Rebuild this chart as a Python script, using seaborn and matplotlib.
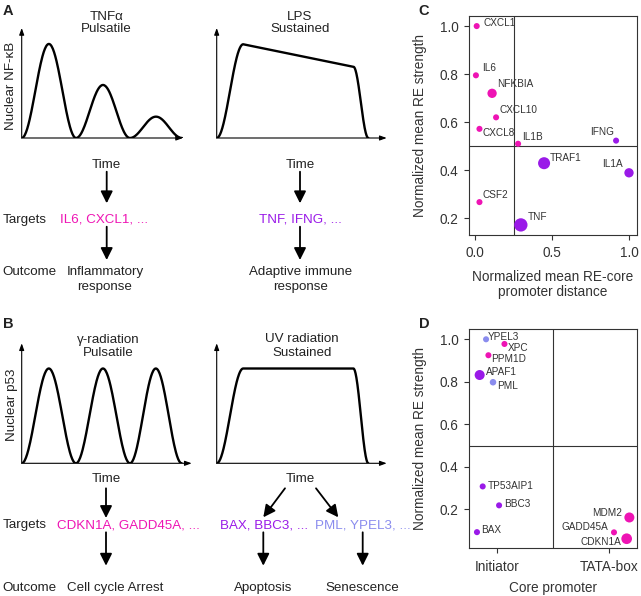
import numpy as np
import pandas as pd
import matplotlib
matplotlib.use("Agg")
import matplotlib.pyplot as plt
import seaborn as sns

# ---------------- data ----------------
# Panels A / B: schematic nuclear-level profiles (time, level normalised to drawn axes)
tnf_pulse_edges = [0.0, 0.337, 0.671, 0.994]
tnf_peak_levels = [0.855, 0.482, 0.194]
lps_knot_time = [0.0, 0.156, 0.804, 0.892]
lps_knot_level = [0.0, 0.852, 0.648, 0.0]
gamma_pulse_edges = [0.0, 0.319, 0.637, 0.941]
gamma_peak_levels = [0.79, 0.79, 0.79]
uv_knot_time = [0.0, 0.156, 0.804, 0.892]
uv_knot_level = [0.0, 0.79, 0.79, 0.0]

# Panel C: NF-kB targets
c_genes = ["CXCL1", "IL6", "NFKBIA", "CXCL10", "CXCL8", "IL1B", "IFNG", "TRAF1", "IL1A", "CSF2", "TNF"]
c_distance = [0.01, 0.005, 0.11, 0.136, 0.028, 0.279, 0.916, 0.448, 1.0, 0.028, 0.297]
c_strength = [1.0, 0.795, 0.72, 0.62, 0.572, 0.51, 0.523, 0.429, 0.389, 0.267, 0.172]
c_group = ["Pulsatile", "Pulsatile", "Pulsatile", "Pulsatile", "Pulsatile", "Pulsatile",
           "Sustained", "Sustained", "Sustained", "Pulsatile", "Sustained"]
c_size = [19, 19, 45, 19, 19, 19, 19, 75, 45, 19, 92]

# Panel D: p53 targets
d_genes = ["YPEL3", "XPC", "PPM1D", "APAF1", "PML", "TP53AIP1", "BBC3", "BAX", "MDM2", "GADD45A", "CDKN1A"]
d_promoter = ["Initiator", "Initiator", "Initiator", "Initiator", "Initiator", "Initiator",
              "Initiator", "Initiator", "TATA-box", "TATA-box", "TATA-box"]
d_jitter = [-0.098, 0.066, -0.077, -0.155, -0.036, -0.128, 0.018, -0.179, 0.179, 0.042, 0.155]
d_strength = [1.0, 0.978, 0.925, 0.832, 0.798, 0.308, 0.219, 0.093, 0.162, 0.092, 0.062]
d_group = ["Senescence", "Arrest", "Arrest", "Apoptosis", "Senescence", "Apoptosis",
           "Apoptosis", "Apoptosis", "Arrest", "Arrest", "Arrest"]
d_size = [19, 19, 19, 52, 22, 19, 19, 19, 52, 19, 59]
promoter_categories = ["Initiator", "TATA-box"]

# ---------------- style ----------------
MAGENTA = "#EE14B4"
PURPLE = "#9A1AE8"
LAVENDER = "#8A8CEE"
INK = "#222222"
c_palette = {"Pulsatile": MAGENTA, "Sustained": PURPLE}
d_palette = {"Arrest": MAGENTA, "Apoptosis": PURPLE, "Senescence": LAVENDER}
SMIN, SMAX = 19, 92

c_label_offsets = {"CXCL1": (4.9, 1.9), "IL6": (4.3, 5.0), "NFKBIA": (3.8, 6.5),
                   "CXCL10": (2.2, 5.3), "CXCL8": (2.4, -3.1), "IL1B": (3.1, 5.0),
                   "IFNG": (-1.2, 6.0), "TRAF1": (4.3, 3.6), "IL1A": (-4.3, 6.2),
                   "CSF2": (2.4, 5.3), "TNF": (4.8, 5.5)}
d_label_offsets = {"YPEL3": (1.4, 1.9), "XPC": (2.2, -2.6), "PPM1D": (1.7, -2.9),
                   "APAF1": (4.6, 2.2), "PML": (2.9, -2.6), "TP53AIP1": (3.4, 0.0),
                   "BBC3": (3.4, 0.7), "BAX": (3.1, 1.9), "MDM2": (-5.0, 2.9),
                   "GADD45A": (-4.1, 3.6), "CDKN1A": (-4.1, -2.6)}

sns.set_theme(style="ticks")
plt.rcParams["font.family"] = ["Liberation Sans", "DejaVu Sans"]

W, H = 641, 596
fig = plt.figure(figsize=(W / 100, H / 100), dpi=100)
fig.patch.set_facecolor("white")


def px_axes(x0, y0, x1, y1):
    return fig.add_axes([x0 / W, 1 - y1 / H, (x1 - x0) / W, (y1 - y0) / H])


overlay = fig.add_axes([0, 0, 1, 1])
overlay.set_xlim(0, W)
overlay.set_ylim(H, 0)
overlay.axis("off")

TXT = 9.6


def text(x, y, s, color=INK, ha="center", size=TXT, weight="normal"):
    overlay.text(x, y, s, ha=ha, va="baseline", fontsize=size, color=color, fontweight=weight)


def flow_arrow(x0, y0, x1, y1):
    overlay.annotate("", xy=(x1, y1), xytext=(x0, y0),
                     arrowprops=dict(arrowstyle="-|>,head_length=0.6,head_width=0.3",
                                     lw=1.3, color="black", mutation_scale=12,
                                     shrinkA=0, shrinkB=0))


def pulses(edges, peaks):
    ts, ys = [], []
    s = np.linspace(0, 1, 90)
    for a, b, p in zip(edges[:-1], edges[1:], peaks):
        ts.append(a + (b - a) * s)
        ys.append(p * (1 - np.cos(2 * np.pi * s)) / 2)
    return np.concatenate(ts), np.concatenate(ys)


def sustained(kt, ky):
    s = np.linspace(0, 1, 90)
    ease = (1 - np.cos(np.pi * s)) / 2
    t = np.concatenate([kt[0] + (kt[1] - kt[0]) * s, kt[2] + (kt[3] - kt[2]) * s])
    y = np.concatenate([ky[0] + (ky[1] - ky[0]) * ease, ky[2] + (ky[3] - ky[2]) * ease])
    return t, y


def schematic(x0, ytop, x1, ybase, t, y):
    ax = px_axes(x0, ytop, x1, ybase)
    ax.set_xlim(0, 1)
    ax.set_ylim(0, 1)
    ax.axis("off")
    for tip in [(1, 0), (0, 1)]:
        ax.annotate("", xy=tip, xytext=(0, 0), xycoords="axes fraction",
                    arrowprops=dict(arrowstyle="-|>,head_length=0.5,head_width=0.18",
                                    lw=0.8, color="black", mutation_scale=8,
                                    shrinkA=0, shrinkB=0), annotation_clip=False)
    sns.lineplot(x=t, y=y, ax=ax, color="black", linewidth=1.7, estimator=None, sort=False)
    ax.set_xlabel("")
    ax.set_ylabel("")
    return ax


# ---------------- Panel A ----------------
t, y = pulses(tnf_pulse_edges, tnf_peak_levels)
schematic(21.7, 28, 183, 138, t, y)
t, y = sustained(lps_knot_time, lps_knot_level)
schematic(216.7, 28, 386.7, 138, t, y)

text(8, 15, "A", ha="center", size=10.5, weight="bold")
text(106.7, 20, "TNF\u03b1")
text(106.7, 32, "Pulsatile")
text(300, 20, "LPS")
text(300, 32, "Sustained")
overlay.text(11.5, 86, "Nuclear NF-\u03baB", rotation=90, ha="center", va="center",
             fontsize=TXT, color=INK)
text(106.7, 167.7, "Time")
text(300, 167.7, "Time")
flow_arrow(106.7, 171.7, 106.7, 203.3)
flow_arrow(300, 171.7, 300, 203.3)
text(2.5, 222.7, "Targets", ha="left")
text(104, 222.7, "IL6, CXCL1, ...", color=MAGENTA)
text(300, 222.7, "TNF, IFNG, ...", color=PURPLE)
flow_arrow(106.7, 226.7, 106.7, 260)
flow_arrow(300, 226.7, 300, 260)
text(2.5, 275.3, "Outcome", ha="left")
text(105, 275.3, "Inflammatory")
text(105, 290, "response")
text(300.5, 275.3, "Adaptive immune")
text(300.5, 290, "response")

# ---------------- Panel B ----------------
t, y = pulses(gamma_pulse_edges, gamma_peak_levels)
schematic(21.7, 343.3, 191.7, 463.3, t, y)
t, y = sustained(uv_knot_time, uv_knot_level)
schematic(216.7, 343.3, 386.7, 463.3, t, y)

text(8, 328, "B", ha="center", size=10.5, weight="bold")
text(108.3, 342.5, "\u03b3-radiation")
text(108.3, 356, "Pulsatile")
text(301.7, 342.5, "UV radiation")
text(301.7, 356, "Sustained")
overlay.text(11.5, 405, "Nuclear p53", rotation=90, ha="center", va="center",
             fontsize=TXT, color=INK)
text(106, 482.3, "Time")
text(300, 482.3, "Time")
flow_arrow(106, 488.3, 106, 518)
flow_arrow(285, 488.3, 263.3, 517.3)
flow_arrow(316, 488.3, 338.3, 517.3)
text(2.5, 528.3, "Targets", ha="left")
text(128.3, 528.3, "CDKN1A, GADD45A, ...", color=MAGENTA)
text(263.7, 528.3, "BAX, BBC3, ...", color=PURPLE)
text(362.5, 528.3, "PML, YPEL3, ...", color=LAVENDER)
flow_arrow(106, 532.3, 106, 565.7)
flow_arrow(263.3, 532.3, 263.3, 565.7)
flow_arrow(362.7, 532.3, 362.7, 565.7)
text(2.5, 591, "Outcome", ha="left")
text(114.7, 591, "Cell cycle Arrest")
text(263.3, 591, "Apoptosis")
text(362.5, 591, "Senescence")


# ---------------- scatter panels ----------------
def style_axes(ax):
    for sp in ax.spines.values():
        sp.set_visible(True)
        sp.set_linewidth(0.8)
        sp.set_color("#333333")
    ax.tick_params(direction="out", length=3.6, width=0.8, labelsize=9.8,
                   colors="#333333", labelcolor="#333333")
    ax.tick_params(axis="x", pad=4.5)
    ax.tick_params(axis="y", pad=4.0)
    ax.grid(False)


def scatter_panel(ax, df, palette, offsets):
    sns.scatterplot(data=df, x="x", y="y", hue="group", size="size", palette=palette,
                    sizes=(SMIN, SMAX), size_norm=(SMIN, SMAX), linewidth=0,
                    legend=False, ax=ax, zorder=3)
    for _, r in df.iterrows():
        dx, dy = offsets[r.gene]
        ax.annotate(r.gene, (r.x, r.y), xytext=(dx, dy), textcoords="offset points",
                    ha="left" if dx >= 0 else "right", va="center", fontsize=7.2,
                    color="#333333", zorder=4)


LABEL = 9.8

# Panel C
dfc = pd.DataFrame({"gene": c_genes, "x": c_distance, "y": c_strength,
                    "group": c_group, "size": c_size})
axc = px_axes(469, 16, 637, 235)
axc.axvline(0.25, color="#333333", lw=0.8, zorder=1)
axc.axhline(0.5, color="#333333", lw=0.8, zorder=1)
scatter_panel(axc, dfc, c_palette, c_label_offsets)
axc.set_xlim(-0.04, 1.052)
axc.set_ylim(0.13, 1.042)
axc.set_xticks([0.0, 0.5, 1.0])
axc.set_xticklabels(["0.0", "0.5", "1.0"])
axc.set_yticks([0.2, 0.4, 0.6, 0.8, 1.0])
axc.set_yticklabels(["0.2", "0.4", "0.6", "0.8", "1.0"])
style_axes(axc)
axc.set_xlabel("Normalized mean RE-core\npromoter distance", fontsize=LABEL, color="#333333",
               linespacing=1.05)
axc.set_ylabel("Normalized mean RE strength", fontsize=LABEL, color="#333333")
axc.xaxis.set_label_coords(0.5, -0.16)
axc.yaxis.set_label_coords(-0.25, 0.5)
overlay.text(424, 15, "C", ha="center", va="baseline", fontsize=10.5, fontweight="bold", color=INK)

# Panel D
dfd = pd.DataFrame({"gene": d_genes,
                    "x": [promoter_categories.index(p) + j for p, j in zip(d_promoter, d_jitter)],
                    "y": d_strength, "group": d_group, "size": d_size})
axd = px_axes(469, 329.3, 637, 548.3)
axd.axvline(0.5, color="#333333", lw=0.8, zorder=1)
axd.axhline(0.5, color="#333333", lw=0.8, zorder=1)
scatter_panel(axd, dfd, d_palette, d_label_offsets)
axd.set_xlim(-0.25, 1.247)
axd.set_ylim(0.017, 1.047)
axd.set_xticks([0, 1])
axd.set_xticklabels(promoter_categories)
axd.set_yticks([0.2, 0.4, 0.6, 0.8, 1.0])
axd.set_yticklabels(["0.2", "0.4", "0.6", "0.8", "1.0"])
style_axes(axd)
axd.set_xlabel("Core promoter", fontsize=LABEL, color="#333333")
axd.set_ylabel("Normalized mean RE strength", fontsize=LABEL, color="#333333")
axd.xaxis.set_label_coords(0.5, -0.15)
axd.yaxis.set_label_coords(-0.25, 0.5)
overlay.text(424, 328, "D", ha="center", va="baseline", fontsize=10.5, fontweight="bold", color=INK)

fig.savefig("out.png", dpi=100, facecolor="white")
